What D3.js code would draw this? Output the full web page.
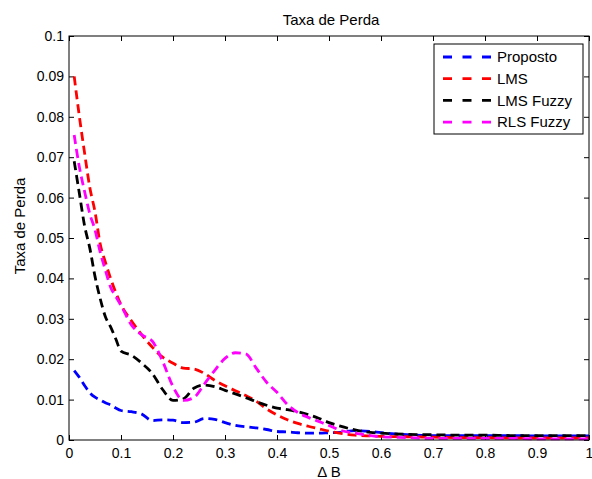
<!DOCTYPE html>
<html>
<head>
<meta charset="utf-8">
<script src="https://cdn.jsdelivr.net/npm/d3@7"></script>
<style>
  body { margin: 0; background: #fff; }
  text { font-family: "Liberation Sans", Arial, sans-serif; }
</style>
</head>
<body>
<div id="chart"></div>
<script>
var W = 592;
var H = 479;
var plotL = 69, plotR = 589, plotT = 36, plotB = 440;

var deltaB = [0.01, 0.02, 0.03, 0.04, 0.05, 0.06, 0.07, 0.08, 0.09, 0.10,
  0.12, 0.14, 0.16, 0.18, 0.20, 0.22, 0.24, 0.26, 0.28, 0.30,
  0.32, 0.34, 0.36, 0.38, 0.40, 0.42, 0.44, 0.46, 0.48, 0.50,
  0.52, 0.55, 0.58, 0.60, 0.65, 0.70, 0.75, 0.80, 0.85, 0.90, 0.95, 1.00];

var proposto = [0.0172, 0.0155, 0.0135, 0.0117, 0.0106, 0.0099, 0.0092, 0.0087, 0.0079, 0.0073,
  0.0070, 0.0064, 0.0048, 0.0050, 0.0049, 0.0043, 0.0044, 0.0053, 0.0051, 0.0043,
  0.0036, 0.0033, 0.0030, 0.0026, 0.0021, 0.0020, 0.0018, 0.0017, 0.0017, 0.0018,
  0.0019, 0.0023, 0.0021, 0.0018, 0.0013, 0.0011, 0.0011, 0.0011, 0.0011, 0.0010, 0.0010, 0.0010];

var lms = [0.0900, 0.0800, 0.0710, 0.0625, 0.0565, 0.0485, 0.0440, 0.0400, 0.0365, 0.0335,
  0.0295, 0.0260, 0.0230, 0.0205, 0.0190, 0.0178, 0.0176, 0.0165, 0.0148, 0.0134,
  0.0122, 0.0110, 0.0096, 0.0077, 0.0062, 0.0050, 0.0041, 0.0034, 0.0028, 0.0022,
  0.0017, 0.0012, 0.0010, 0.0009, 0.0008, 0.0007, 0.0006, 0.0006, 0.0005, 0.0005, 0.0005, 0.0005];

var lmsFuzzy = [0.0690, 0.0610, 0.0530, 0.0475, 0.0405, 0.0350, 0.0305, 0.0280, 0.0250, 0.0220,
  0.0210, 0.0190, 0.0165, 0.0125, 0.0098, 0.0102, 0.0128, 0.0136, 0.0132, 0.0123,
  0.0114, 0.0105, 0.0095, 0.0086, 0.0079, 0.0075, 0.0070, 0.0063, 0.0054, 0.0043,
  0.0035, 0.0025, 0.0019, 0.0017, 0.0014, 0.0013, 0.0012, 0.0012, 0.0011, 0.0011, 0.0011, 0.0011];

var rlsFuzzy = [0.0755, 0.0675, 0.0615, 0.0560, 0.0520, 0.0465, 0.0420, 0.0378, 0.0355, 0.0333,
  0.0285, 0.0260, 0.0245, 0.0195, 0.0132, 0.0098, 0.0105, 0.0138, 0.0172, 0.0202,
  0.0216, 0.0213, 0.0178, 0.0143, 0.0118, 0.0088, 0.0068, 0.0056, 0.0046, 0.0036,
  0.0025, 0.0017, 0.0011, 0.0008, 0.0006, 0.0004, 0.0004, 0.0004, 0.0004, 0.0003, 0.0003, 0.0003];

var seriesNames = ['Proposto', 'LMS', 'LMS Fuzzy', 'RLS Fuzzy'];
var seriesColors = ['#0000ff', '#ff0000', '#000000', '#ff00ff'];
var seriesValues = [proposto, lms, lmsFuzzy, rlsFuzzy];

var xTicks = [0, 0.1, 0.2, 0.3, 0.4, 0.5, 0.6, 0.7, 0.8, 0.9, 1];
var yTicks = [0, 0.01, 0.02, 0.03, 0.04, 0.05, 0.06, 0.07, 0.08, 0.09, 0.1];

var svg = d3.select('#chart').append('svg').attr('width', W).attr('height', H);
svg.append('rect').attr('width', W).attr('height', H).attr('fill', '#fff');

var xScale = d3.scaleLinear().domain([0, 1]).range([plotL, plotR]);
var yScale = d3.scaleLinear().domain([0, 0.1]).range([plotB, plotT]);

function tickFmt(d) { return d === 0 ? '0' : d3.format('~g')(d); }

// axes, MATLAB style: ticks inward on all four sides
var xAxis = d3.axisBottom(xScale).tickValues(xTicks).tickFormat(tickFmt).tickSizeInner(-5).tickSizeOuter(0).tickPadding(8);
var yAxis = d3.axisLeft(yScale).tickValues(yTicks).tickFormat(tickFmt).tickSizeInner(-5).tickSizeOuter(0).tickPadding(5);
var xTop = d3.axisTop(xScale).tickValues(xTicks).tickFormat('').tickSizeInner(-5).tickSizeOuter(0);
var yRight = d3.axisRight(yScale).tickValues(yTicks).tickFormat('').tickSizeInner(-5).tickSizeOuter(0);

var gx = svg.append('g').attr('transform', 'translate(0,' + plotB + ')').call(xAxis);
var gy = svg.append('g').attr('transform', 'translate(' + plotL + ',0)').call(yAxis);
var gt = svg.append('g').attr('transform', 'translate(0,' + plotT + ')').call(xTop);
var gr = svg.append('g').attr('transform', 'translate(' + plotR + ',0)').call(yRight);

[gx, gy, gt, gr].forEach(function (g) {
  g.select('.domain').remove();
  g.selectAll('line').attr('stroke', '#000').attr('stroke-width', 1);
  g.selectAll('text').attr('fill', '#000').style('font-size', '14px')
    .style('font-family', '"Liberation Sans", Arial, sans-serif');
});

// lines
var line = d3.line()
  .x(function (d, i) { return xScale(deltaB[i]); })
  .y(function (d) { return yScale(d); })
  .curve(d3.curveMonotoneX);

seriesValues.forEach(function (vals, i) {
  svg.append('path')
    .attr('d', line(vals))
    .attr('fill', 'none')
    .attr('stroke', seriesColors[i])
    .attr('stroke-width', 2.8)
    .attr('stroke-dasharray', '9,5');
});

// box
svg.append('rect')
  .attr('x', plotL).attr('y', plotT)
  .attr('width', plotR - plotL).attr('height', plotB - plotT)
  .attr('fill', 'none').attr('stroke', '#000').attr('stroke-width', 1);

// legend
var legend = svg.append('g');
legend.append('rect')
  .attr('x', 434).attr('y', 44).attr('width', 149).attr('height', 90)
  .attr('fill', '#fff').attr('stroke', '#000').attr('stroke-width', 1);

seriesNames.forEach(function (name, i) {
  var ly = 57 + i * 21.7;
  legend.append('line')
    .attr('x1', 443).attr('x2', 491).attr('y1', ly).attr('y2', ly)
    .attr('stroke', seriesColors[i]).attr('stroke-width', 2.8)
    .attr('stroke-dasharray', '9,10.5');
  legend.append('text')
    .attr('x', 497).attr('y', ly).attr('dy', '0.35em')
    .style('font-size', '15px').text(name);
});

// titles
svg.append('text').attr('x', 331).attr('y', 25)
  .attr('text-anchor', 'middle').style('font-size', '15px').text('Taxa de Perda');
svg.append('text').attr('x', 329).attr('y', 477)
  .attr('text-anchor', 'middle').style('font-size', '15px').text('\u0394 B');
svg.append('text')
  .attr('transform', 'translate(25,226) rotate(-90)')
  .attr('text-anchor', 'middle')
  .style('font-size', '15px').text('Taxa de Perda');
</script>
</body>
</html>
